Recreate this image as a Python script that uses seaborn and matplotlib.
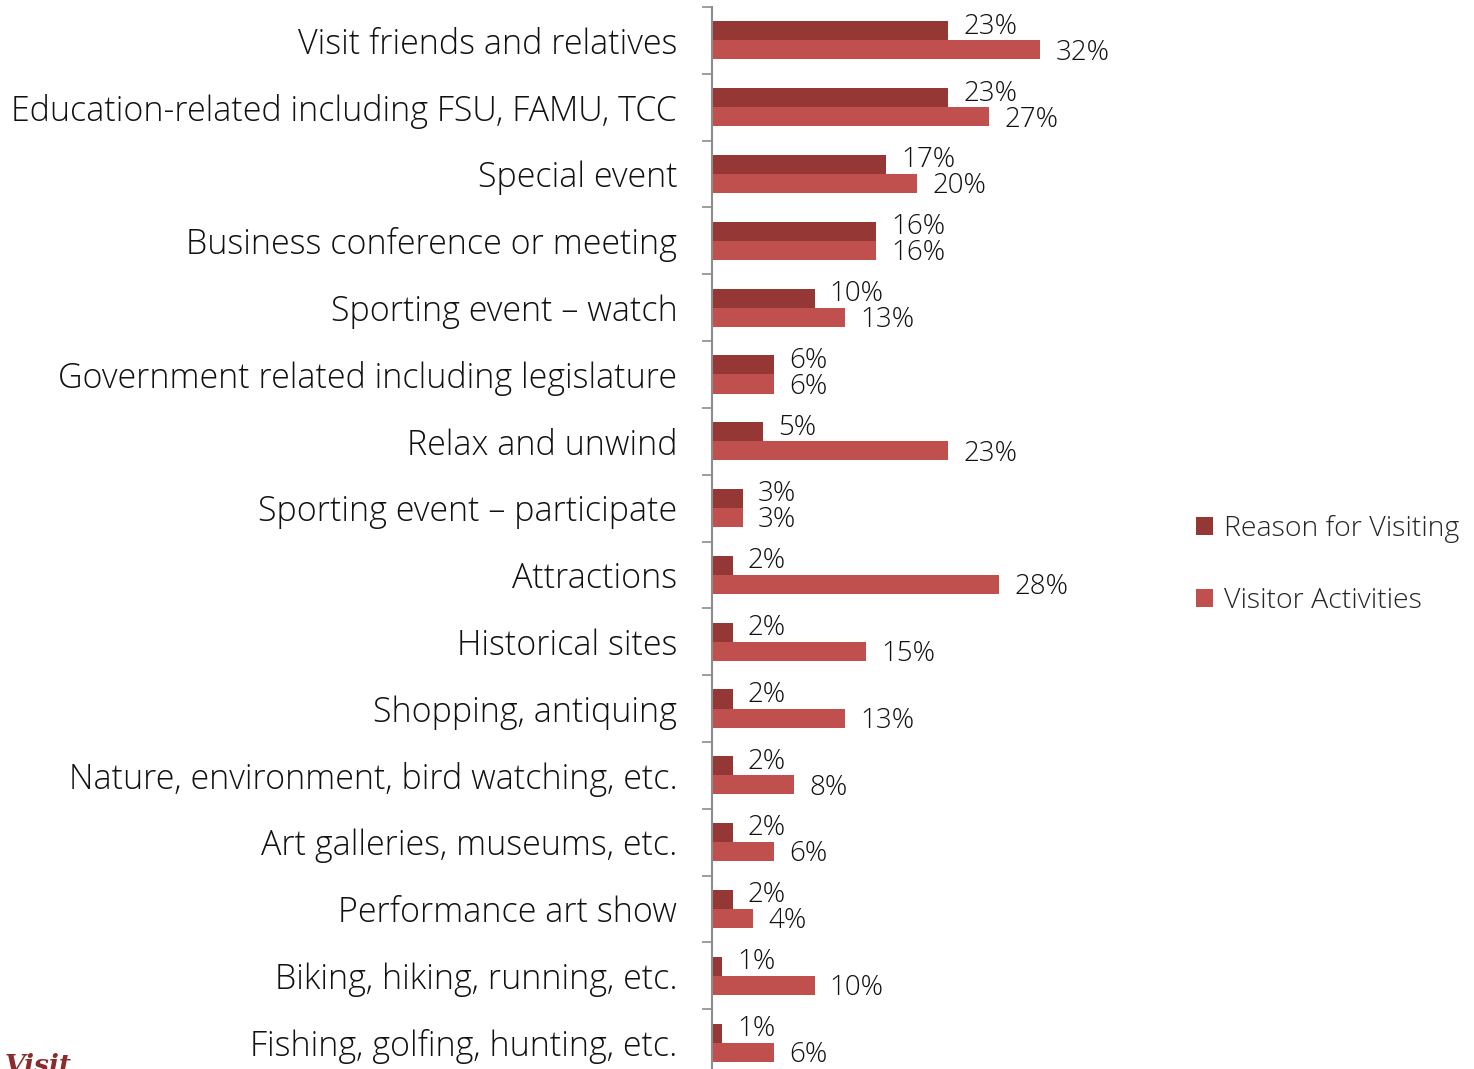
import matplotlib
matplotlib.use("Agg")
import matplotlib.pyplot as plt
import seaborn as sns
import pandas as pd
import numpy as np

categories = [
    "Visit friends and relatives",
    "Education-related including FSU, FAMU, TCC",
    "Special event",
    "Business conference or meeting",
    "Sporting event \u2013 watch",
    "Government related including legislature",
    "Relax and unwind",
    "Sporting event \u2013 participate",
    "Attractions",
    "Historical sites",
    "Shopping, antiquing",
    "Nature, environment, bird watching, etc.",
    "Art galleries, museums, etc.",
    "Performance art show",
    "Biking, hiking, running, etc.",
    "Fishing, golfing, hunting, etc.",
]
reason_for_visiting = [23, 23, 17, 16, 10, 6, 5, 3, 2, 2, 2, 2, 2, 2, 1, 1]
visitor_activities = [32, 27, 20, 16, 13, 6, 23, 3, 28, 15, 13, 8, 6, 4, 10, 6]
series_names = ["Reason for Visiting", "Visitor Activities"]

df = pd.DataFrame({
    "category": categories * 2,
    "value": reason_for_visiting + visitor_activities,
    "series": [series_names[0]] * len(categories) + [series_names[1]] * len(categories),
})

sns.set_style("white")
plt.rcParams["font.family"] = ["Open Sans", "DejaVu Sans"]

fig = plt.figure(figsize=(14.74, 10.69), dpi=100)
ax = fig.add_axes([712 / 1474, 1 - 1076 / 1069, 410 / 1474, 1069 / 1069])

palette = {series_names[0]: "#953735", series_names[1]: "#C0504D"}
sns.barplot(data=df, y="category", x="value", hue="series", order=categories,
            hue_order=series_names, palette=palette, orient="h", width=0.57,
            saturation=1, ax=ax, legend=True)

for patch in ax.patches:
    patch.set_edgecolor("none")

ax.set_xlim(0, 40)
ax.set_ylim(len(categories) - 0.5, -0.5)
ax.set_xlabel("")
ax.set_ylabel("")
ax.set_xticks([])

# category labels at group centres, tick marks at group boundaries
ax.set_yticks(range(len(categories)))
ax.set_yticklabels(categories, fontsize=24.5, fontweight="light", color="#111111")
ax.tick_params(axis="y", which="major", length=0, pad=25)
ax.set_yticks(np.arange(-0.5, len(categories) + 0.5, 1), minor=True)
ax.tick_params(axis="y", which="minor", length=7.5, width=1.2, color="#8c8c8c", left=True)

for side in ["top", "right", "bottom"]:
    ax.spines[side].set_visible(False)
ax.spines["left"].set_color("#8c8c8c")
ax.spines["left"].set_linewidth(1.5)

# value labels
for container, vals, dy in zip(ax.containers, [reason_for_visiting, visitor_activities], [3, -2]):
    for patch, v in zip(container, vals):
        ax.annotate(f"{v}%", xy=(v, patch.get_y() + patch.get_height() / 2),
                    xytext=(11, dy), textcoords="offset points",
                    ha="left", va="center", fontsize=20, fontweight="light",
                    color="#111111")

leg = ax.legend(loc="upper left", bbox_to_anchor=(1170 / 1474, 1 - 489 / 1069),
                bbox_transform=fig.transFigure, frameon=False,
                handlelength=0.6, handleheight=0.6, handletextpad=0.4,
                labelspacing=1.55, prop={"weight": "light", "size": 20.5})

fig.text(0.003, 1 - 1053 / 1069, "Visit", color="#8B2B2E", fontsize=19,
         fontstyle="italic", fontweight="bold", family="DejaVu Serif", va="top", ha="left")

fig.savefig("out.png", dpi=100)
